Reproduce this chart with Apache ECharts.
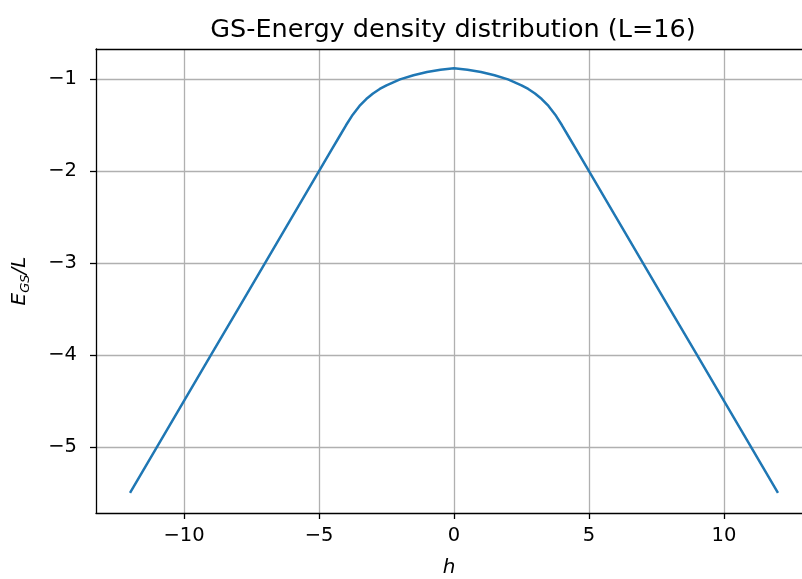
<!DOCTYPE html>
<html>
<head>
<meta charset="utf-8">
<title>GS-Energy density distribution</title>
<script src="https://cdn.jsdelivr.net/npm/echarts@6.0.0/dist/echarts.min.js"></script>
<style>
  html, body { margin: 0; padding: 0; background: #fff; }
  #chart { width: 802px; height: 579px; }
</style>
</head>
<body>
<div id="chart"></div>
<script>
// field h and ground-state energy density E_GS/L
const hValues = [-12, -11, -10, -9, -8, -7, -6, -5, -4.5, -4.25, -4, -3.75, -3.5, -3.25, -3, -2.75, -2.5, -2, -1.5, -1, -0.5, 0,
                 0.5, 1, 1.5, 2, 2.5, 2.75, 3, 3.25, 3.5, 3.75, 4, 4.25, 4.5, 5, 6, 7, 8, 9, 10, 11, 12];
const energyDensity = [-5.5, -5.0, -4.5, -4.0, -3.5, -3.0, -2.5, -2.0, -1.75, -1.625, -1.5, -1.385, -1.29, -1.215, -1.155, -1.105, -1.065, -1.0, -0.955, -0.92, -0.895, -0.88,
                       -0.895, -0.92, -0.955, -1.0, -1.065, -1.105, -1.155, -1.215, -1.29, -1.385, -1.5, -1.625, -1.75, -2.0, -2.5, -3.0, -3.5, -4.0, -4.5, -5.0, -5.5];
const xTicks = [-10, -5, 0, 5, 10];
const yTicks = [-5, -4, -3, -2, -1];

const font = "'DejaVu Sans', sans-serif";
const minus = v => String(v).replace('-', '\u2212');
// axes box runs past the right edge of the picture, so the x range is cut there
const xMin = -13.26, xMax = 12.89;

const chart = echarts.init(document.getElementById('chart'));
chart.setOption({
  animation: false,
  backgroundColor: '#fff',
  graphic: [{
    type: 'text',
    x: 453,
    y: 30,
    style: {
      text: 'GS-Energy density distribution (L=16)',
      font: '25.5px ' + font,
      fill: '#000',
      textAlign: 'center',
      textVerticalAlign: 'middle'
    }
  }],
  grid: {
    left: 96,
    top: 49,
    right: 0,
    bottom: 66,
    outerBoundsMode: 'none'
  },
  xAxis: [{
    type: 'value',
    min: xMin,
    max: xMax,
    name: 'h',
    nameLocation: 'middle',
    nameGap: 45,
    nameTextStyle: { fontFamily: font, fontSize: 20, fontStyle: 'italic', color: '#000' },
    axisLine: { onZero: false, lineStyle: { color: '#000', width: 1.3 } },
    axisTick: { customValues: xTicks, length: 6, lineStyle: { color: '#000', width: 1.3 } },
    axisLabel: { customValues: xTicks, margin: 13, fontFamily: font, fontSize: 19.5, color: '#000', formatter: minus },
    splitLine: { show: true, lineStyle: { color: '#b0b0b0', width: 1.3 } }
  }, {
    // top spine only
    type: 'value',
    position: 'top',
    min: xMin,
    max: xMax,
    axisLine: { onZero: false, lineStyle: { color: '#000', width: 1.3 } },
    axisTick: { show: false },
    axisLabel: { show: false },
    splitLine: { show: false }
  }],
  yAxis: {
    type: 'value',
    min: -5.72,
    max: -0.67,
    name: '{e|E}{s|GS}{e|/L}',
    nameLocation: 'middle',
    nameRotate: 90,
    nameGap: 54,
    nameTextStyle: {
      color: '#000',
      rich: {
        e: { fontFamily: font, fontSize: 20, fontStyle: 'italic', lineHeight: 23, verticalAlign: 'top', color: '#000' },
        s: { fontFamily: font, fontSize: 13, fontStyle: 'italic', lineHeight: 32, color: '#000' }
      }
    },
    axisLine: { onZero: false, lineStyle: { color: '#000', width: 1.3 } },
    axisTick: { customValues: yTicks, length: 6, lineStyle: { color: '#000', width: 1.3 } },
    axisLabel: { customValues: yTicks, margin: 19, fontFamily: font, fontSize: 19.5, color: '#000', formatter: minus },
    splitLine: { show: true, lineStyle: { color: '#b0b0b0', width: 1.3 } }
  },
  series: [{
    type: 'line',
    data: hValues.map((h, i) => [h, energyDensity[i]]),
    showSymbol: false,
    smooth: false,
    lineStyle: { color: '#1f77b4', width: 2.5 }
  }]
});
</script>
</body>
</html>
